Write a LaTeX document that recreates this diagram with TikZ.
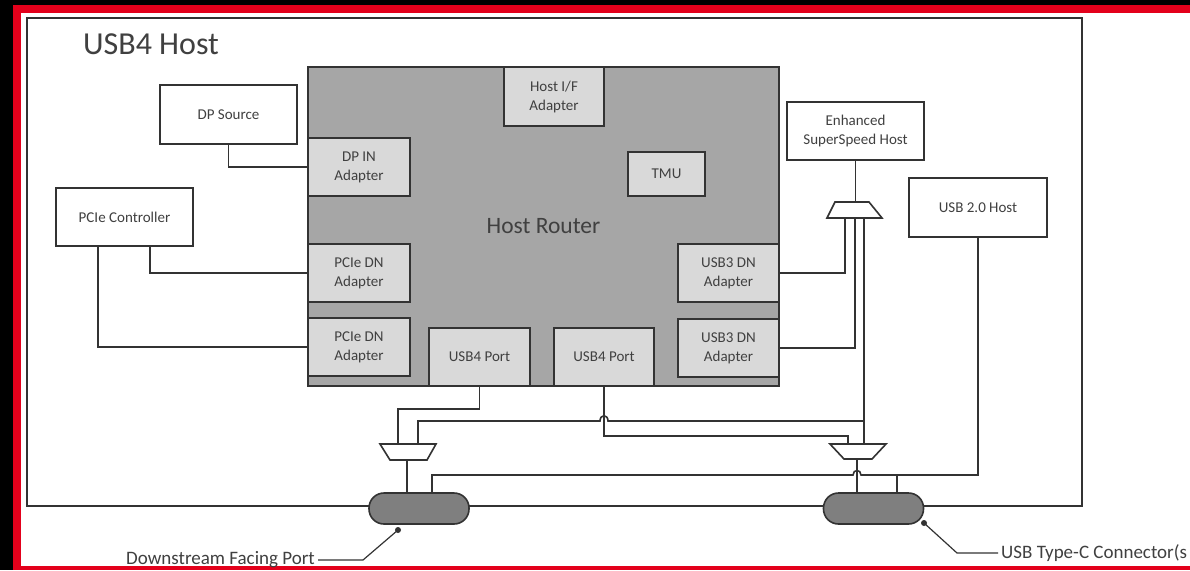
\documentclass[tikz,border=0pt]{standalone}
\usepackage{fontspec}
\setmainfont{Carlito}
\definecolor{linegray}{HTML}{333333}
\definecolor{txtgray}{HTML}{404040}
\definecolor{routergray}{HTML}{A6A6A6}
\definecolor{adaptgray}{HTML}{D9D9D9}
\definecolor{pluggray}{HTML}{7F7F7F}
\definecolor{framered}{HTML}{E3001B}
\begin{document}
\begin{tikzpicture}[x=1pt,y=-1pt,
    box/.style={draw=linegray,line width=1.6pt,fill=white,inner sep=0pt,
      align=center,text=txtgray,font=\fontsize{15}{19}\selectfont},
    adapter/.style={box,fill=adaptgray},
    plug/.style={draw=linegray,line width=1.6pt,fill=pluggray,inner sep=0pt,
      rounded corners=15pt,minimum width=100pt,minimum height=31pt},
    wire/.style={draw=linegray,line width=1.6pt},
    mux/.style={draw=linegray,line width=1.6pt,fill=white,line join=miter},
    callout/.style={text=txtgray,font=\fontsize{19}{23}\selectfont,inner sep=3pt}]

     \useasboundingbox (0,0) rectangle (1190,570);
     \clip (0,0) rectangle (1190,570);
     \fill[black] (0,0) rectangle (1190,570);
     \fill[framered] (13,5) rectangle (1190,570);
     \fill[white] (21,13) rectangle (1190,566);

     \node[box,minimum width=1055pt,minimum height=488pt] (usbhost) at (554.5,262) {};
     \node[text=txtgray,font=\fontsize{32}{36}\selectfont,inner sep=0pt] (hosttitle) at (151,44) {USB4 Host};

     \node[box,minimum width=137pt,minimum height=59pt] (dpsrc) at (228.5,114.5) {DP Source};
     \node[box,minimum width=137pt,minimum height=58pt] (pcie) at (124.5,217) {PCIe Controller};
     \node[box,minimum width=137pt,minimum height=58pt] (ess) at (855.5,131) {Enhanced\\SuperSpeed Host};
     \node[box,minimum width=138pt,minimum height=59pt] (usbtwo) at (978,207.5) {USB 2.0 Host};

     \node[box,fill=routergray,minimum width=471pt,minimum height=319pt,
       font=\fontsize{23.5}{28}\selectfont] (router) at (543.5,226.5) {Host Router};
     \node[adapter,minimum width=100pt,minimum height=59pt] (hostif) at (554,96.5) {Host I/F\\Adapter};
     \node[adapter,minimum width=102pt,minimum height=58pt] (dpin) at (359,167) {DP IN\\Adapter};
     \node[adapter,minimum width=77pt,minimum height=44pt] (tmu) at (666.5,174) {TMU};
     \node[adapter,minimum width=102pt,minimum height=58pt] (pcieone) at (359,273) {PCIe DN\\Adapter};
     \node[adapter,minimum width=102pt,minimum height=58pt] (pcietwo) at (359,347) {PCIe DN\\Adapter};
     \node[adapter,minimum width=101pt,minimum height=58pt] (usbfoura) at (479.5,357) {USB4 Port};
     \node[adapter,minimum width=100pt,minimum height=58pt] (usbfourb) at (604,357) {USB4 Port};
     \node[adapter,minimum width=101pt,minimum height=58pt] (usbthreea) at (728.5,273) {USB3 DN\\Adapter};
     \node[adapter,minimum width=101pt,minimum height=58pt] (usbthreeb) at (728.5,348) {USB3 DN\\Adapter};

     \coordinate (ssin) at (855.5,202);
     \coordinate (ssouta) at (845,218);
     \coordinate (ssoutb) at (855,218);
     \coordinate (ssoutc) at (864,218);
     \coordinate (ssbranch) at (864,421);
     \coordinate (muxlina) at (398,444);
     \coordinate (muxlinb) at (418,444);
     \coordinate (muxlout) at (407,460);
     \coordinate (muxrina) at (848,444);
     \coordinate (muxrinb) at (864,444);
     \coordinate (muxrout) at (857,459);
     \coordinate (usbbus) at (432,475);

     \draw[wire] (dpsrc.south) |- (dpin.west);
     \draw[wire] ([xshift=25.5pt]pcie.south) |- (pcieone.west);
     \draw[wire] ([xshift=-26.5pt]pcie.south) |- (pcietwo.west);
     \draw[wire] (ess.south) -- (ssin);
     \draw[wire] (ssouta) |- (usbthreea.east);
     \draw[wire] (ssoutb) |- (usbthreeb.east);
     \draw[wire] (ssoutc) -- (muxrinb);
     \draw[wire] (ssbranch) -- (608,421) .. controls (608,414) and (600,414) .. (600,421) -- (muxlinb |- ssbranch) -- (muxlinb);
     \draw[wire] (usbfoura.south) -- ++(0,22) -| (muxlina);
     \draw[wire] (usbfourb.south) -- ++(0,49) -| (muxrina);
     \draw[wire] (usbtwo.south) |- (861,475) .. controls (861,469) and (853,469) .. (853,475) -- (usbbus) -- (usbbus |- 0,493);
     \draw[wire] ([xshift=23.5pt]873.5,493) -- ++(0,-18);
     \draw[wire] (muxlout) -- (muxlout |- 0,493);
     \draw[wire] (muxrout) -- (muxrout |- 0,493);

     \draw[mux] (835,202) -- (869,202) -- (882,218) -- (827,218) -- cycle;
     \draw[mux] (380,444) -- (436,444) -- (427,460) -- (390,460) -- cycle;
     \draw[mux] (830,444) -- (886,444) -- (872,459) -- (844,459) -- cycle;

     \node[plug] (dfp) at (419,508.5) {};
     \node[plug] (typec) at (873.5,508.5) {};

     \node[callout,anchor=east] (dfplabel) at (318,560) {Downstream Facing Port};
     \node[callout,anchor=west] (typeclabel) at (998,553) {USB Type-C Connector(s};
     \coordinate (dfpdot) at (398,530);
     \coordinate (typecdot) at (924,523);
     \fill[linegray] (dfpdot) circle (3);
     \fill[linegray] (typecdot) circle (3);
     \draw[linegray,line width=1.2pt] (dfpdot) -- (363,560) -- (dfplabel.east);
     \draw[linegray,line width=1.2pt] (typecdot) -- (957,553) -- (typeclabel.west);
\end{tikzpicture}
\end{document}
